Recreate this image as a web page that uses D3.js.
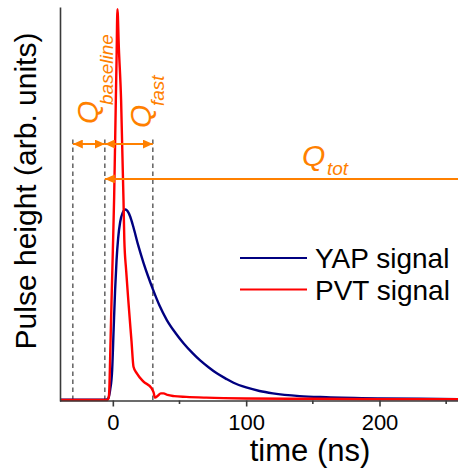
<!DOCTYPE html>
<html>
<head>
<meta charset="utf-8">
<script src="https://cdn.jsdelivr.net/npm/d3@7"></script>
<style>
  html, body { margin: 0; padding: 0; background: #fff; overflow: hidden; }
  text { font-family: "Liberation Sans", Arial, Helvetica, sans-serif; }
</style>
</head>
<body>
<svg id="chart" width="458" height="468"></svg>
<script>
// YAP (slow scintillator) pulse: time in ns, normalised pulse height
const yapTime  = [-40, -5, -3.5, -2, -0.5, 0.6, 1.7, 2.8, 4, 5.5, 7.4, 9.4, 11, 13, 15.5, 19, 23, 26.5, 30, 35, 40.5, 47, 53, 60, 65.5, 72, 78, 85, 90.5, 100, 110, 120, 140, 160, 200, 230, 260];
const yapValue = [0.001, 0.001, 0.004, 0.026, 0.077, 0.18, 0.28, 0.357, 0.413, 0.454, 0.478, 0.486, 0.482, 0.468, 0.44, 0.395, 0.35, 0.315, 0.283, 0.241, 0.204, 0.171, 0.145, 0.119, 0.101, 0.083, 0.068, 0.054, 0.044, 0.032, 0.023, 0.017, 0.010, 0.007, 0.004, 0.003, 0.002];

// PVT (fast plastic) pulse
const pvtTime  = [-40, -4, -3, -2.5, -2, -1, 0, 1, 2.25, 2.8, 3.45, 4.5, 6.2, 8, 8.6, 10, 11.7, 14, 15.5, 18, 23, 29, 30.5, 31.7, 33.5, 36, 38, 41, 46, 55, 70, 100, 150, 200, 260];
const pvtValue = [0, 0, 0.008, 0.04, 0.11, 0.25, 0.38, 0.52, 0.765, 0.87, 0.997, 0.9, 0.765, 0.51, 0.41, 0.33, 0.25, 0.15, 0.085, 0.068, 0.047, 0.030, 0.02, 0.006, 0.01, 0.017, 0.017, 0.013, 0.010, 0.008, 0.006, 0.004, 0.003, 0.002, 0.002];

const seriesNames  = ["YAP signal", "PVT signal"];
const seriesColors = ["#000080", "#ff0000"];

// Axis ticks (ns)
const xTicks      = [0, 100, 200];
const xMinorTicks = [50, 150, 250];

// Integration gate edges (ns) and arrow heights (pulse-height units)
const gateEdges   = [-30, -6, 30];
const gateTop     = 0.668;
const gateArrowY  = 0.653;
const totArrowY   = 0.564;

const svg = d3.select("#chart");
const x = d3.scaleLinear().domain([-40, 260]).range([59.5, 459.5]);
const y = d3.scaleLinear().domain([0, 1]).range([400, 8]);
const orange = "#ff8000";
const axisColor = "#3a3a3a";

svg.append("defs").append("marker")
  .attr("id", "head")
  .attr("viewBox", "0 0 10 9")
  .attr("refX", 10).attr("refY", 4.5)
  .attr("markerWidth", 10).attr("markerHeight", 9)
  .attr("markerUnits", "userSpaceOnUse")
  .attr("orient", "auto-start-reverse")
  .append("path").attr("d", "M0,0 L10,4.5 L0,9 Z").attr("fill", orange);

svg.select("defs").append("clipPath").attr("id", "plot")
  .append("rect").attr("x", 60).attr("y", 0).attr("width", 400).attr("height", 402);

// Gate boundaries
svg.append("g").selectAll("line").data(gateEdges).join("line")
  .attr("x1", d => x(d)).attr("x2", d => x(d))
  .attr("y1", y(0)).attr("y2", y(gateTop))
  .attr("stroke", "#555").attr("stroke-width", 1.4)
  .attr("stroke-dasharray", "4.5,3.5");

// Curves
const line = d3.line().x(d => x(d[0])).y(d => y(d[1])).curve(d3.curveMonotoneX);
const yapData = yapTime.map((t, i) => [t, yapValue[i]]);
const pvtData = pvtTime.map((t, i) => [t, pvtValue[i]]);
const curves = svg.append("g").attr("clip-path", "url(#plot)");
curves.append("path").datum(yapData).attr("d", line)
  .attr("fill", "none").attr("stroke", seriesColors[0]).attr("stroke-width", 2.4);
curves.append("path").datum(pvtData).attr("d", line)
  .attr("fill", "none").attr("stroke", seriesColors[1]).attr("stroke-width", 2.4)
  .attr("stroke-linejoin", "round");

// Axes
const xAxis = svg.append("g").attr("transform", `translate(0,${y(0) + 0.5})`)
  .call(d3.axisBottom(x).tickValues(xTicks).tickSize(6).tickSizeOuter(0).tickFormat(d3.format("d")));
xAxis.select(".domain").attr("stroke", axisColor).attr("stroke-width", 1.6);
xAxis.selectAll(".tick line").attr("stroke", axisColor).attr("stroke-width", 1.6);
xAxis.selectAll(".tick text").attr("font-size", 22).attr("fill", "#000").attr("dy", "0.95em")
  .attr("font-family", "'Liberation Sans', Arial, sans-serif");
xAxis.append("g").selectAll("line").data(xMinorTicks).join("line")
  .attr("x1", d => x(d)).attr("x2", d => x(d)).attr("y1", 0).attr("y2", 3.5)
  .attr("stroke", axisColor).attr("stroke-width", 1.6);

const yAxis = svg.append("g").attr("transform", "translate(60,0)")
  .call(d3.axisLeft(d3.scaleLinear().domain([0, 1]).range([401, 7])).tickValues([]).tickSizeOuter(0));
yAxis.select(".domain").attr("stroke", axisColor).attr("stroke-width", 1.6);

// Axis titles
svg.append("text").attr("x", 310).attr("y", 461).attr("text-anchor", "middle")
  .attr("font-size", 31).attr("fill", "#000").text("time (ns)");
svg.append("text").attr("transform", "translate(36,191) rotate(-90)")
  .attr("text-anchor", "middle").attr("font-size", 30).attr("fill", "#000")
  .text("Pulse height (arb. units)");

// Gate arrows
const arrows = [
  [gateEdges[0], gateEdges[1], gateArrowY, true],
  [gateEdges[1], gateEdges[2], gateArrowY, true],
  [gateEdges[1], 262, totArrowY, false]
];
svg.append("g").selectAll("line").data(arrows).join("line")
  .attr("x1", d => x(d[0])).attr("x2", d => x(d[1]))
  .attr("y1", d => y(d[2])).attr("y2", d => y(d[2]))
  .attr("stroke", orange).attr("stroke-width", 2)
  .attr("marker-start", "url(#head)")
  .attr("marker-end", d => d[3] ? "url(#head)" : null);

// Charge labels
const qLabels = [
  { q: [98, 124], sub: [113, 105], text: "baseline", rot: true },
  { q: [151, 128], sub: [164, 106], text: "fast", rot: true },
  { q: [302, 166], sub: [327, 175], text: "tot", rot: false }
];
const lab = svg.append("g").attr("fill", orange).attr("font-style", "italic");
qLabels.forEach(l => {
  const r = l.rot ? " rotate(-90)" : "";
  lab.append("text").attr("transform", `translate(${l.q[0]},${l.q[1]})${r}`)
    .attr("font-size", 30).text("Q");
  lab.append("text").attr("transform", `translate(${l.sub[0]},${l.sub[1]})${r}`)
    .attr("font-size", 19).text(l.text);
});

// Legend
const legend = svg.append("g");
seriesNames.forEach((name, i) => {
  const ly = 258 + i * 31.5;
  legend.append("line").attr("x1", 240).attr("x2", 307).attr("y1", ly).attr("y2", ly)
    .attr("stroke", seriesColors[i]).attr("stroke-width", 2.2);
  legend.append("text").attr("x", 315).attr("y", ly + 10).attr("font-size", 28)
    .attr("fill", "#000").text(name);
});
</script>
</body>
</html>
